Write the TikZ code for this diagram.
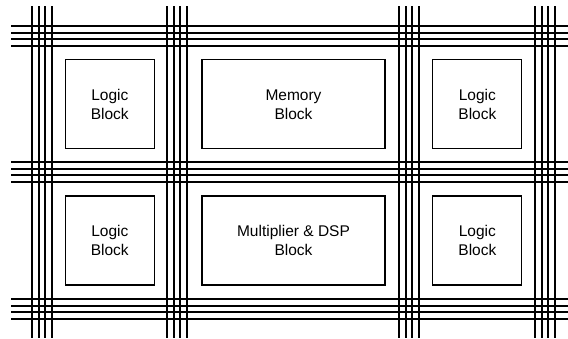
\documentclass[tikz,border=0pt]{standalone}
\usepackage{fontspec}
\setmainfont{Liberation Sans}
\begin{document}
\begin{tikzpicture}[x=1pt,y=-1pt,
  track/.style={line width=2pt,black},
  block/.style={draw=black,line width=1.1pt,fill=white,inner sep=0pt,outer sep=0pt,
    align=center,font=\fontsize{15.5}{19}\selectfont},
  smallblock/.style={block,minimum width=89pt,minimum height=89pt},
  bigblock/.style={block,minimum width=183pt,minimum height=89pt}]
\useasboundingbox (0,0) rectangle (568,338);
% vertical routing tracks
\foreach \gx in {32,167,399,535}
  \foreach \k in {0,1,2,3}
    \draw[track] (\gx+6.6*\k,6) -- (\gx+6.6*\k,338);
% horizontal routing tracks
\foreach \gy in {26,162,299}
  \foreach \k in {0,1,2,3}
    \draw[track] (11,\gy+6.6*\k) -- (568,\gy+6.6*\k);
% functional blocks
\node[smallblock] (lb1) at (109.8,104.3) {Logic\\Block};
\node[bigblock]   (mem) at (293.5,104.3) {Memory\\Block};
\node[smallblock] (lb2) at (477.4,104.3) {Logic\\Block};
\node[smallblock] (lb3) at (109.8,240.5) {Logic\\Block};
\node[bigblock]   (dsp) at (293.5,240.5) {Multiplier \& DSP\\Block};
\node[smallblock] (lb4) at (477.4,240.5) {Logic\\Block};
\end{tikzpicture}
\end{document}
